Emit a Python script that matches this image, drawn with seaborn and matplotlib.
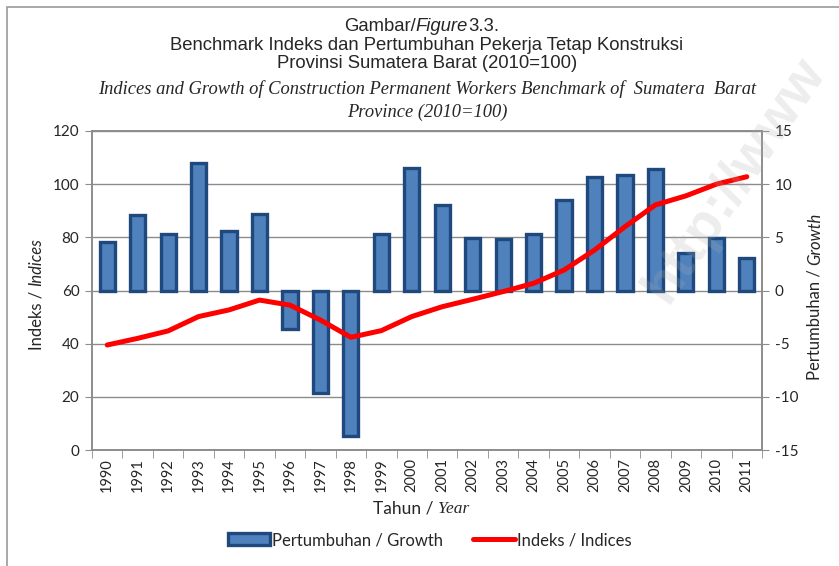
import numpy as np
import pandas as pd
import matplotlib
matplotlib.use("Agg")
import matplotlib.pyplot as plt
import seaborn as sns
from matplotlib.patches import Patch, Rectangle
from matplotlib.lines import Line2D
from matplotlib.text import Annotation

# data
years = [str(y) for y in range(1990, 2012)]
growth = [4.6, 7.1, 5.3, 12.0, 5.6, 7.2, -3.6, -9.6, -13.7, 5.3, 11.5,
          8.0, 4.95, 4.8, 5.3, 8.5, 10.7, 10.85, 11.45, 3.5, 4.95, 3.1]
indices = [39.5, 42.0, 44.8, 50.2, 52.7, 56.4, 54.5, 48.9, 42.4, 44.9, 50.2,
           53.9, 56.7, 59.6, 62.7, 67.7, 75.2, 84.0, 92.2, 95.6, 100.0, 102.8]

df = pd.DataFrame({"Tahun": years, "Growth": growth, "Index": indices})

sns.set_style("white")
plt.rcParams["font.family"] = ["Lato", "DejaVu Sans"]
plt.rcParams["axes.unicode_minus"] = False

W, H = 839, 566
fig = plt.figure(figsize=(W / 100, H / 100), dpi=100)
ax = fig.add_axes([92 / W, 1 - 450 / H, (762 - 92) / W, (450 - 131) / H])

# bars (growth, right scale) on the lower axes
sns.barplot(data=df, x="Tahun", y="Growth", ax=ax, color="#4F81BD",
            saturation=1, width=0.5, edgecolor="#1F497D", linewidth=2.4)
ax.set_ylim(-15, 15)
ax.set_yticks(range(-15, 16, 5))
ax.set_xlim(-0.5, len(years) - 0.5)
ax.set_axisbelow(True)
ax.grid(axis="y", color="#8c8c8c", lw=1)
ax.set_xlabel("")
ax.set_ylabel("")

# line (index, left scale) on top
ax2 = ax.twinx()
sns.lineplot(x=np.arange(len(years)), y=indices, ax=ax2, color="#FF0000", lw=3.6)
ax2.set_ylim(0, 120)
ax2.set_yticks(range(0, 121, 20))
ax2.set_xlim(-0.5, len(years) - 0.5)

# swap sides: growth on the right, index on the left
ax.yaxis.tick_right()
ax2.yaxis.tick_left()

for a in (ax, ax2):
    for s in a.spines.values():
        s.set_color("#8c8c8c")
        s.set_linewidth(1.2)
    a.tick_params(axis="y", which="major", length=5, color="#8c8c8c",
                  direction="out", labelsize=11, pad=4)

ax.tick_params(axis="x", which="major", length=0, labelrotation=90,
               labelsize=10.5, pad=6)
ax.set_xticks(np.arange(-0.5, len(years), 1), minor=True)
ax.tick_params(axis="x", which="minor", length=6, color="#8c8c8c",
               direction="out", bottom=True)


def mixed(x, y, parts, vertical=False):
    # pieces of text with different fonts, placed one after another
    p0 = parts[0]
    if vertical:
        t = fig.text(x, y, p0[0], rotation=90, ha="center", va="bottom", **p0[1])
    else:
        t = fig.text(x, y, p0[0], ha="left", va="baseline", **p0[1])
    for txt, style in parts[1:]:
        if vertical:
            t = fig.add_artist(Annotation(txt, xy=(0.5, 1), xycoords=t, rotation=90,
                                          ha="center", va="bottom",
                                          annotation_clip=False, **style))
        else:
            t = fig.add_artist(Annotation(txt, xy=(1, 0), xycoords=t, ha="left",
                                          va="bottom", annotation_clip=False, **style))
    return t


sans = "Liberation Sans"
serif = "Liberation Serif"
ts = 13.3

# titles
mixed(344 / W, 1 - 31 / H, [("Gambar/", dict(family=sans, size=ts)),
                            ("Figure", dict(family=sans, size=ts, style="italic")),
                            ("3.3.", dict(family=sans, size=ts))])
fig.text(427 / W, 1 - 45 / H, "Benchmark Indeks dan Pertumbuhan Pekerja Tetap Konstruksi",
         ha="center", va="center", family=sans, size=ts)
fig.text(427 / W, 1 - 64 / H, "Provinsi Sumatera Barat (2010=100)",
         ha="center", va="center", family=sans, size=ts)
fig.text(427 / W, 1 - 89 / H,
         "Indices and Growth of Construction Permanent Workers Benchmark of  Sumatera  Barat",
         ha="center", va="center", family=serif, style="italic", size=ts)
fig.text(427 / W, 1 - 112 / H, "Province (2010=100)",
         ha="center", va="center", family=serif, style="italic", size=ts)

# axis labels
mixed(373 / W, 1 - 514 / H, [("Tahun / ", dict(family="Lato", size=12.5)),
                             ("Year", dict(family=serif, style="italic", size=12.5))])
mixed(36 / W, 1 - 350 / H, [("Indeks / ", dict(family="Lato", size=12)),
                            ("Indices", dict(family="Lato", style="italic", size=12))],
      vertical=True)
mixed(815 / W, 1 - 380 / H, [("Pertumbuhan / ", dict(family="Lato", size=12)),
                             ("Growth", dict(family="Lato", style="italic", size=12))],
      vertical=True)

# legend
handles = [Patch(facecolor="#4F81BD", edgecolor="#1F497D", linewidth=2.4),
           Line2D([0], [0], color="#FF0000", lw=3.6)]
fig.legend(handles, ["Pertumbuhan / Growth", "Indeks / Indices"],
           loc="center", bbox_to_anchor=(430 / W, 1 - 540 / H), ncol=2,
           frameon=False, fontsize=12, columnspacing=1.8, handlelength=2.5,
           handletextpad=0.15)

# outer frame of the chart
fig.add_artist(Rectangle((7 / W, -0.05), 1.1, 1 - 7 / H + 0.05,
                         transform=fig.transFigure, fill=False,
                         edgecolor="#9a9a9a", lw=1.2))

# faint watermark
fig.text(735 / W, 1 - 180 / H, "http://www", rotation=56, ha="center",
         va="center", family=sans, weight="bold", size=40, color="#b0b0b0",
         alpha=0.22)

fig.savefig("out.png", dpi=100)
